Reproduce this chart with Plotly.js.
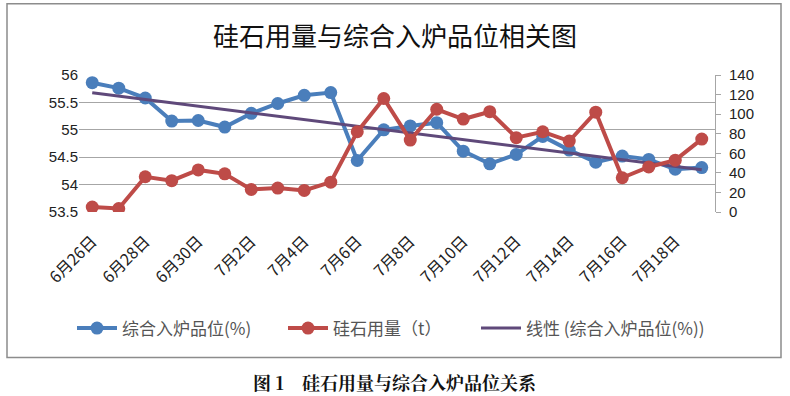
<!DOCTYPE html>
<html><head><meta charset="utf-8">
<script src="https://cdn.plot.ly/plotly-3.0.1.min.js"></script>
<style>html,body{margin:0;padding:0;background:#fff;}#chart{width:790px;height:396px;}</style>
</head><body><div id="chart"></div>
<script>
const dates = ["6月26日","6月27日","6月28日","6月29日","6月30日","7月1日","7月2日","7月3日","7月4日","7月5日","7月6日","7月7日","7月8日","7月9日","7月10日","7月11日","7月12日","7月13日","7月14日","7月15日","7月16日","7月17日","7月18日","7月19日"];
const grade = [55.86,55.76,55.58,55.16,55.17,55.05,55.30,55.48,55.63,55.68,54.44,55.00,55.07,55.13,54.61,54.38,54.55,54.88,54.63,54.41,54.52,54.46,54.28,54.31];
const silica = [5,3.5,36,32,43,39,23,24.5,22,30.5,82,116,73.5,105,95,102.5,76,82,72.5,102,35,46,53,74.5];
const tickLabels = ["6月26日","6月28日","6月30日","7月2日","7月4日","7月6日","7月8日","7月10日","7月12日","7月14日","7月16日","7月18日"];

// linear trendline (least squares over category index)
const n = grade.length;
const idx = grade.map((_, i) => i);
const mx = idx.reduce((a,b)=>a+b,0)/n, my = grade.reduce((a,b)=>a+b,0)/n;
let sxy=0, sxx=0;
for (let i=0;i<n;i++){ sxy += (i-mx)*(grade[i]-my); sxx += (i-mx)*(i-mx); }
const slope = sxy/sxx, icpt = my - slope*mx;
const trend = idx.map(i => icpt + slope*i);

const cjk = '"Noto Sans CJK SC", "Liberation Sans", sans-serif';
const traces = [
  {x: idx, y: grade, name: '综合入炉品位(%)', type: 'scatter', mode: 'lines+markers', legend: 'legend',
   line: {color: '#4A7EBB', width: 4}, marker: {color: '#4A7EBB', size: 13}},
  {x: idx, y: silica, name: '硅石用量（t）', type: 'scatter', mode: 'lines+markers', yaxis: 'y2', legend: 'legend2',
   line: {color: '#BE4B48', width: 4}, marker: {color: '#BE4B48', size: 13}},
  {x: idx, y: trend, name: '线性 (综合入炉品位(%))', type: 'scatter', mode: 'lines', legend: 'legend3',
   line: {color: '#5F497A', width: 3}}
];
const L = 79, R = 715, T = 75, B = 211.7;
const W = R - L, H = B - T;
const px = v => (v - L) / W, py = v => (B - v) / H;
const legBase = x => ({orientation: 'h', x: px(x), y: py(328), xanchor: 'left', yanchor: 'middle',
           font: {family: cjk, size: 17, color: '#555'}, itemwidth: 40, bgcolor: 'rgba(0,0,0,0)'});
const layout = {
  width: 790, height: 396,
  margin: {l: L, r: 790 - R, t: T, b: 396 - B},
  paper_bgcolor: '#fff', plot_bgcolor: '#fff',
  font: {family: cjk, color: '#333'},
  title: {text: '硅石用量与综合入炉品位相关图', font: {family: cjk, size: 26, color: '#111'},
          x: 0.5, xanchor: 'center', y: 1 - 37/396, yanchor: 'middle'},
  showlegend: true,
  legend: legBase(72),
  legend2: legBase(283),
  legend3: legBase(476),
  xaxis: {range: [-0.5, 23.5], tickmode: 'array',
          tickvals: tickLabels.map(t => dates.indexOf(t)), ticktext: tickLabels,
          tickangle: -45, tickfont: {family: cjk, size: 16, color: '#222'}, ticklabelstandoff: 16,
          showgrid: false, zeroline: false, showline: false, ticks: ''},
  yaxis: {range: [53.5, 56], dtick: 0.5, showgrid: true, gridcolor: '#A6A6A6', gridwidth: 1,
          zeroline: false, showline: false, ticks: '', tickfont: {family: '"Liberation Sans", sans-serif', size: 15, color: '#222'}},
  yaxis2: {range: [0, 140], dtick: 20, overlaying: 'y', side: 'right', showgrid: false, zeroline: false,
           showline: true, linecolor: '#A6A6A6', linewidth: 1, ticks: 'outside', ticklen: 5, tickcolor: '#A6A6A6',
           ticklabelstandoff: 5,
           tickfont: {family: '"Liberation Sans", sans-serif', size: 15, color: '#222'}},
  shapes: [
    {type: 'rect', xref: 'paper', yref: 'paper', x0: px(7), x1: px(781), y0: py(357), y1: py(4),
     line: {color: '#8C8C8C', width: 1.5}, fillcolor: 'rgba(0,0,0,0)', layer: 'below'}
  ],
  annotations: [
    {text: '<b>图 1　硅石用量与综合入炉品位关系</b>', xref: 'paper', yref: 'paper', x: px(395), y: py(381),
     showarrow: false, xanchor: 'center', yanchor: 'middle',
     font: {family: '"Noto Serif CJK SC", "Noto Sans CJK SC", serif', size: 18, color: '#111'}}
  ]
};
Plotly.newPlot('chart', traces, layout, {displayModeBar: false, staticPlot: true});
</script></body></html>
